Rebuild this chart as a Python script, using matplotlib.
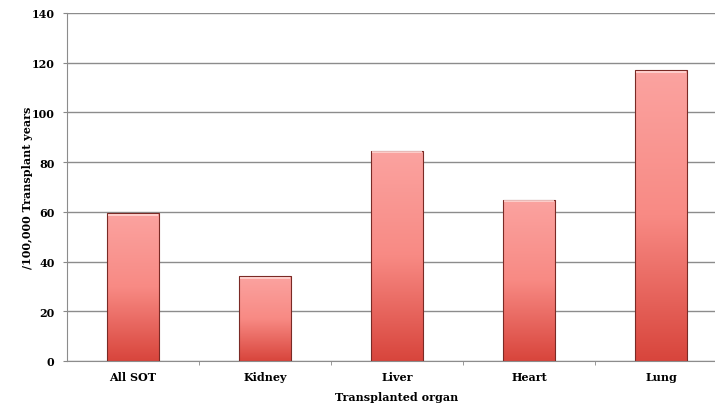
import numpy as np
import matplotlib.pyplot as plt
from matplotlib.colors import LinearSegmentedColormap

organs = ['All SOT', 'Kidney', 'Liver', 'Heart', 'Lung']
rates = [59.5, 34, 84.5, 64.8, 117]

plt.rcParams['font.family'] = ['DejaVu Serif']
plt.rcParams['font.weight'] = 'bold'
plt.rcParams['axes.labelweight'] = 'bold'

fig = plt.figure(figsize=(7.15, 4.10), dpi=100)
ax = fig.add_axes([67 / 715, 48 / 410, 660 / 715, 348 / 410])

x = np.arange(len(organs))
bars = ax.bar(x, rates, width=0.4, color='none', edgecolor='#7a2a25', linewidth=0.8, zorder=3)

# vertical gradient fill, clipped to each bar
grad = LinearSegmentedColormap.from_list('bar', ['#d8453c', '#f88a84', '#fba3a0'])
g = np.linspace(0, 1, 256).reshape(-1, 1)
for b in bars:
    bx, by = b.get_x(), b.get_y()
    w, h = b.get_width(), b.get_height()
    im = ax.imshow(g, cmap=grad, origin='lower', aspect='auto',
                   extent=[bx, bx + w, by, by + h], zorder=2)
    im.set_clip_path(b)
    # light highlight along the top edge
    ax.plot([bx + 0.01, bx + w - 0.01], [by + h - 0.6, by + h - 0.6],
            color='#ffd6d4', lw=1.2, zorder=4, solid_capstyle='butt')

ax.set_xlim(-0.5, len(organs) - 0.5)
ax.set_ylim(0, 140)
ax.set_yticks(np.arange(0, 141, 20))
ax.set_xticks(x)
ax.set_xticklabels(organs)
ax.set_xticks(np.arange(0.5, len(organs) - 0.5, 1), minor=True)
ax.tick_params(axis='x', which='major', length=0, labelsize=8, pad=7)
ax.tick_params(axis='x', which='minor', length=3, color='#888888')
ax.tick_params(axis='y', length=3, color='#888888', labelsize=8, pad=6)

ax.grid(axis='y', color='#8c8c8c', linewidth=1.0, zorder=0)
ax.set_axisbelow(True)
for s in ['top', 'right']:
    ax.spines[s].set_visible(False)
ax.spines['left'].set_color('#8c8c8c')
ax.spines['bottom'].set_color('#8c8c8c')

ax.set_ylabel('/100,000 Transplant years', fontsize=8)
ax.yaxis.set_label_coords(-34 / 660, 0.5)
ax.set_xlabel('Transplanted organ', fontsize=8)
ax.xaxis.set_label_coords((397 - 67) / 660, -30 / 348)

fig.savefig('out.png', dpi=100)
